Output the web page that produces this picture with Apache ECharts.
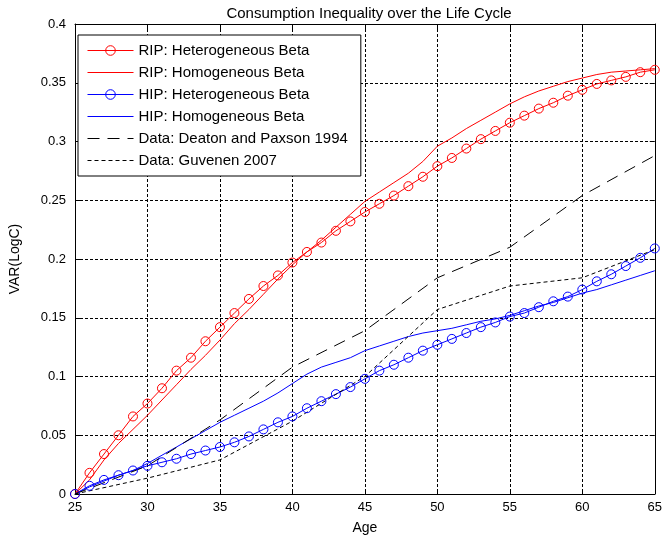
<!DOCTYPE html>
<html>
<head>
<meta charset="utf-8">
<script src="https://cdn.jsdelivr.net/npm/echarts@6/dist/echarts.min.js"></script>
<style>
html,body{margin:0;padding:0;background:#fff;}
#chart{width:665px;height:542px;}
</style>
</head>
<body>
<div id="chart"></div>
<script>
// ---- data ----
const ages = [25,26,27,28,29,30,31,32,33,34,35,36,37,38,39,40,41,42,43,44,45,
              46,47,48,49,50,51,52,53,54,55,56,57,58,59,60,61,62,63,64,65];
const ripHet = [0,0.018,0.034,0.050,0.066,0.077,0.090,0.105,0.116,0.130,0.142,
                0.154,0.166,0.177,0.186,0.197,0.206,0.214,0.224,0.232,0.240,
                0.247,0.254,0.262,0.270,0.279,0.286,0.294,0.302,0.309,0.316,
                0.322,0.328,0.333,0.339,0.344,0.349,0.352,0.355,0.359,0.361];
const ripHom = [0,0.012,0.029,0.043,0.055,0.067,0.080,0.093,0.106,0.118,0.131,
                0.145,0.157,0.170,0.183,0.195,0.206,0.216,0.227,0.238,0.249,
                0.257,0.265,0.273,0.283,0.296,0.303,0.311,0.318,0.325,0.332,
                0.338,0.343,0.347,0.351,0.354,0.357,0.359,0.360,0.361,0.362];
const hipHet = [0,0.007,0.012,0.016,0.020,0.024,0.027,0.030,0.034,0.037,0.040,
                0.044,0.049,0.055,0.061,0.066,0.073,0.079,0.085,0.091,0.098,
                0.105,0.110,0.116,0.122,0.127,0.132,0.137,0.142,0.146,0.151,
                0.154,0.159,0.164,0.168,0.174,0.181,0.187,0.194,0.201,0.209];
const hipHom = [0,0.006,0.011,0.016,0.020,0.026,0.033,0.040,0.047,0.054,0.061,
                0.067,0.073,0.079,0.086,0.094,0.102,0.108,0.112,0.116,0.122,
                0.126,0.130,0.134,0.137,0.139,0.141,0.144,0.147,0.149,0.152,
                0.156,0.160,0.163,0.167,0.171,0.174,0.178,0.182,0.186,0.190];
const dataAges = [25,30,35,40,45,50,55,60,65];
const deaton = [0,0.024,0.063,0.108,0.139,0.184,0.210,0.254,0.288];
const guvenen = [0,0.0135,0.029,0.062,0.100,0.157,0.177,0.184,0.208];
const xTicks = [25,30,35,40,45,50,55,60,65];
const yTicks = [0,0.05,0.1,0.15,0.2,0.25,0.3,0.35,0.4];
const seriesNames = ['RIP: Heterogeneous Beta','RIP: Homogeneous Beta',
  'HIP: Heterogeneous Beta','HIP: Homogeneous Beta',
  'Data: Deaton and Paxson 1994','Data: Guvenen 2007'];
const titleText = 'Consumption Inequality over the Life Cycle';
const xName = 'Age';
const yName = 'VAR(LogC)';

// ---- chart ----
const FONT = 'Liberation Sans, Arial, sans-serif';
const pair = (xs, ys) => xs.map((x, i) => [x, ys[i]]);
const chart = echarts.init(document.getElementById('chart'), null, {renderer: 'canvas'});

const gridLine = {show: true, lineStyle: {color: '#000', type: [3, 2], width: 1}};
const axisLineBlack = {show: true, onZero: false, lineStyle: {color: '#000', width: 1}};
const tickIn = {show: true, inside: true, length: 5, lineStyle: {color: '#000'}};
const xMin = xTicks[0], xMax = xTicks[xTicks.length - 1], xInt = xTicks[1] - xTicks[0];
const yMin = yTicks[0], yMax = yTicks[yTicks.length - 1], yInt = yTicks[1] - yTicks[0];

function markerSeries(name, ys, color) {
  return {
    name, type: 'line', data: pair(ages, ys),
    symbol: 'circle', symbolSize: 9, showSymbol: true,
    itemStyle: {color: 'rgba(0,0,0,0)', borderColor: color, borderWidth: 1},
    lineStyle: {color: color, width: 1},
    emphasis: {disabled: true}, clip: false
  };
}
function plainSeries(name, xs, ys, color, dash) {
  return {
    name, type: 'line', data: pair(xs, ys),
    symbol: 'circle', showSymbol: false,
    itemStyle: {color: 'rgba(0,0,0,0)', borderWidth: 0},
    lineStyle: {color: color, width: 1, type: dash},
    emphasis: {disabled: true}
  };
}

chart.setOption({
  animation: false,
  backgroundColor: '#fff',
  title: {
    text: titleText, left: 364, top: 1, textAlign: 'center',
    textStyle: {fontFamily: FONT, fontSize: 15, fontWeight: 'normal', color: '#000'}
  },
  grid: {left: 72, right: 8, top: 24, bottom: 48, containLabel: false},
  legend: {
    orient: 'vertical', left: 78, top: 35,
    data: seriesNames,
    backgroundColor: '#fff', borderColor: '#000', borderWidth: 1,
    padding: [8, 13, 8, 9],
    itemWidth: 46, itemHeight: 12, itemGap: 7,
    lineStyle: {width: 1},
    itemStyle: {borderWidth: 1},
    textStyle: {fontFamily: FONT, fontSize: 15, color: '#000', lineHeight: 15},
    selectedMode: false
  },
  xAxis: [
    {type: 'value', min: xMin, max: xMax, interval: xInt, position: 'bottom',
     axisLine: axisLineBlack, axisTick: tickIn, splitLine: gridLine,
     axisLabel: {color: '#000', fontFamily: FONT, fontSize: 13, margin: 7},
     name: xName, nameLocation: 'middle', nameGap: 27,
     nameTextStyle: {color: '#000', fontFamily: FONT, fontSize: 14}},
    {type: 'value', min: xMin, max: xMax, interval: xInt, position: 'top',
     axisLine: axisLineBlack, axisTick: tickIn, splitLine: {show: false},
     axisLabel: {show: false}}
  ],
  yAxis: [
    {type: 'value', min: yMin, max: yMax, interval: yInt, position: 'left',
     axisLine: axisLineBlack, axisTick: tickIn, splitLine: gridLine,
     axisLabel: {color: '#000', fontFamily: FONT, fontSize: 13, margin: 9},
     name: yName, nameLocation: 'middle', nameGap: 53,
     nameTextStyle: {color: '#000', fontFamily: FONT, fontSize: 14}},
    {type: 'value', min: yMin, max: yMax, interval: yInt, position: 'right',
     axisLine: axisLineBlack, axisTick: tickIn, splitLine: {show: false},
     axisLabel: {show: false}}
  ],
  series: [
    markerSeries(seriesNames[0], ripHet, '#ff0000'),
    plainSeries(seriesNames[1], ages, ripHom, '#ff0000', 'solid'),
    markerSeries(seriesNames[2], hipHet, '#0000ff'),
    plainSeries(seriesNames[3], ages, hipHom, '#0000ff', 'solid'),
    plainSeries(seriesNames[4], dataAges, deaton, '#000', [12, 8]),
    plainSeries(seriesNames[5], dataAges, guvenen, '#000', [4, 3])
  ]
});
</script>
</body>
</html>
